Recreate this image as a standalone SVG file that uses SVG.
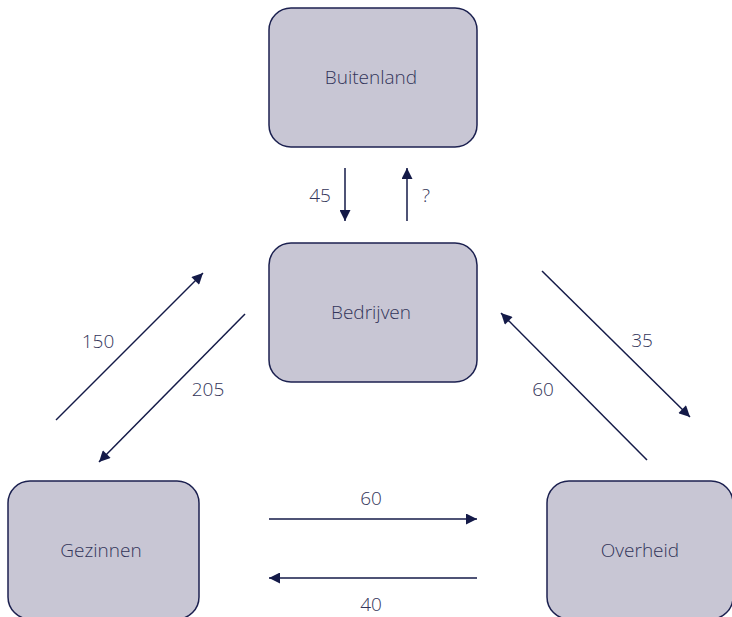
<svg xmlns="http://www.w3.org/2000/svg" width="732" height="617" viewBox="0 0 732 617">
<style>
.box{fill:#c8c6d4;stroke:#1c2150;stroke-width:1.5}
.lbl{font-family:"Open Sans","Noto Sans",sans-serif;font-weight:300;font-size:19px;fill:#33355a;text-anchor:middle;dominant-baseline:central}
.c{stroke:#141a48;stroke-width:1.5;fill:none;marker-end:url(#ah)}
</style>
<defs>
<marker id="ah" viewBox="0 0 10 10" refX="10" refY="5" markerWidth="13" markerHeight="11" markerUnits="userSpaceOnUse" orient="auto">
<path d="M0,0 L10,5 L0,10 Z" fill="#141a48"/>
</marker>
</defs>
<rect width="732" height="617" fill="#ffffff"/>
<g id="buitenland"><rect class="box" x="269" y="8" width="208" height="139" rx="22"/><text class="lbl" x="371" y="77">Buitenland</text></g>
<g id="bedrijven"><rect class="box" x="269" y="243" width="208" height="139" rx="22"/><text class="lbl" x="371" y="312">Bedrijven</text></g>
<g id="gezinnen"><rect class="box" x="8" y="481" width="191" height="138" rx="22"/><text class="lbl" x="101" y="550">Gezinnen</text></g>
<g id="overheid"><rect class="box" x="547" y="481" width="186" height="138" rx="22"/><text class="lbl" x="640" y="550">Overheid</text></g>
<g id="connectors">
<line class="c" x1="345" y1="168" x2="345" y2="221"/>
<line class="c" x1="407" y1="221" x2="407" y2="168"/>
<line class="c" x1="269" y1="519" x2="477" y2="519"/>
<line class="c" x1="477" y1="578" x2="269" y2="578"/>
<line class="c" x1="56" y1="420" x2="203" y2="273"/>
<line class="c" x1="245" y1="314" x2="99" y2="462"/>
<line class="c" x1="542" y1="271" x2="690" y2="417"/>
<line class="c" x1="647" y1="460" x2="501" y2="313"/>
<text class="lbl" x="320" y="195">45</text>
<text class="lbl" x="426" y="195">?</text>
<text class="lbl" x="371" y="498">60</text>
<text class="lbl" x="371" y="604">40</text>
<text class="lbl" x="98" y="341">150</text>
<text class="lbl" x="208" y="389">205</text>
<text class="lbl" x="642" y="340">35</text>
<text class="lbl" x="543" y="389">60</text>
</g>
</svg>
